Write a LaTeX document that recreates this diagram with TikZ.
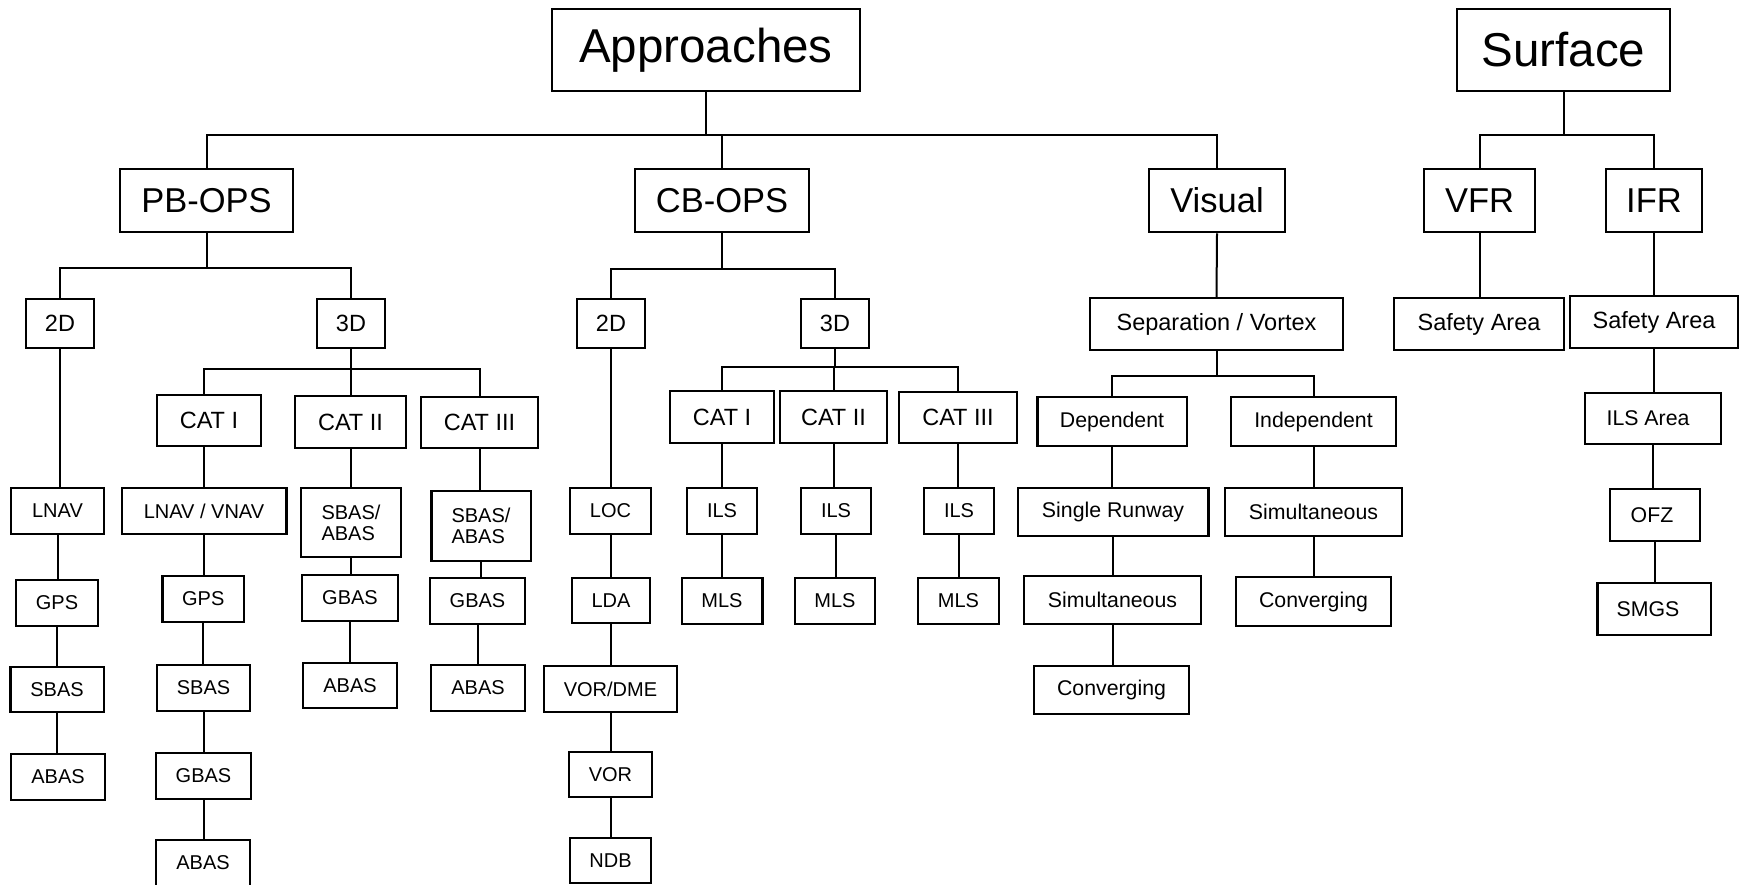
\documentclass[tikz,border=0pt]{standalone}
\usepackage{fontspec}
\setmainfont{Liberation Sans}
\newcommand{\fsz}[1]{\fontsize{#1}{#1}\selectfont}
\tikzset{
  bx/.style 2 args={draw, line width=2.5pt, minimum width=#1pt, minimum height=#2pt, inner sep=0pt},
  fA/.style={font=\fsz{47.5}},
  fB/.style={font=\fsz{34.5}},
  fC/.style={font=\fsz{23.5}},
  fD/.style={font=\fsz{21.3}},
  fE/.style={font=\fsz{20}},
  ln/.style={line width=2pt},
}
\begin{document}
\begin{tikzpicture}[x=1pt,y=-1pt]
\useasboundingbox (0,0) rectangle (1739,884);
\clip (0,0) rectangle (1739,884);
% level 1
\node[bx={308}{82},fA] (app) at (706,50) {Approaches};
\node[bx={213}{82},fA] (sur) at (1563.5,50) {Surface};
% level 2
\node[bx={173}{63},fB] (pb) at (206.5,200.5) {PB-OPS};
\node[bx={174}{63},fB] (cb) at (722,200.5) {CB-OPS};
\node[bx={136}{63},fB] (vis) at (1217,200.5) {Visual};
\node[bx={111}{63},fB] (vfr) at (1479.5,200.5) {VFR};
\node[bx={96}{63},fB] (ifr) at (1654,200.5) {IFR};
% level 3
\node[bx={68}{49},fC] (pbtwo) at (60,323.5) {2D};
\node[bx={68}{49},fC] (pbthree) at (351,323.5) {3D};
\node[bx={68}{49},fC] (cbtwo) at (611,323.5) {2D};
\node[bx={68}{49},fC] (cbthree) at (835,323.5) {3D};
\node[bx={253}{52},fC] (sep) at (1216.5,324) {Separation / Vortex};
\node[bx={170}{52},fC] (saone) at (1479,324) {Safety Area};
\node[bx={168}{52},fC] (satwo) at (1654,322) {Safety Area};
% level 4
\node[bx={104}{51},fC] (pcatone) at (209,420.5) {CAT I};
\node[bx={111}{52},fC] (pcattwo) at (350.5,422) {CAT II};
\node[bx={117}{51},fC] (pcatthree) at (479.5,422.5) {CAT III};
\node[bx={104}{52},fC] (ccatone) at (722,417) {CAT I};
\node[bx={107}{52},fC] (ccattwo) at (833.5,417) {CAT II};
\node[bx={118}{51},fC] (ccatthree) at (958,417.5) {CAT III};
\node[bx={149.5}{49},fD] (dep) at (1112,421.5) {Dependent};
\node[bx={165}{49},fD] (ind) at (1313.5,421.5) {Independent};
\node[bx={136}{51},fD] (ilsa) at (1653,418.5) {\hspace*{-10pt}ILS Area};
% level 5
\node[bx={93}{46},fE] (lnav) at (57.5,511) {LNAV};
\node[bx={164.5}{46},fE] (lv) at (204,511) {LNAV / VNAV};
\node[bx={100}{69},fE,align=left] (sbtwo) at (351,522.5) {SBAS/\\[1pt]ABAS};
\node[bx={99.5}{70},fE,align=left] (sbthree) at (481,526) {SBAS/\\[1pt]ABAS};
\node[bx={81}{46},fE] (loc) at (610.5,511) {LOC};
\node[bx={70}{46},fE] (ilsone) at (722,511) {ILS};
\node[bx={70}{46},fE] (ilstwo) at (836,511) {ILS};
\node[bx={70}{46},fE] (ilsthree) at (959,511) {ILS};
\node[bx={190.5}{48},fD] (sr) at (1113,512) {Single Runway};
\node[bx={177}{48},fD] (simtwo) at (1313.5,512) {Simultaneous};
\node[bx={90}{52},fD] (ofz) at (1655,515) {\hspace*{-6pt}OFZ};
% level 6
\node[bx={82}{46},fE] (gpsone) at (57,603) {GPS};
\node[bx={81.5}{46},fE] (gpstwo) at (203.3,599) {GPS};
\node[bx={96}{46},fE] (gbtwo) at (350,598) {GBAS};
\node[bx={95}{46},fE] (gbthree) at (477.5,601) {GBAS};
\node[bx={78.4}{45},fE] (lda) at (611,600.5) {LDA};
\node[bx={80.5}{46},fE] (mlsone) at (722,601) {MLS};
\node[bx={80}{46},fE] (mlstwo) at (835,601) {MLS};
\node[bx={81}{46},fE] (mlsthree) at (958.5,601) {MLS};
\node[bx={177}{48},fD] (simone) at (1112.5,600) {Simultaneous};
\node[bx={155}{49},fD] (convtwo) at (1313.5,601.5) {Converging};
\node[bx={113.5}{52},fD] (smgs) at (1654,609) {\hspace*{-12pt}SMGS};
% level 7
\node[bx={93.5}{45},fE] (sbasone) at (57,689.5) {SBAS};
\node[bx={93}{46},fE] (sbastwo) at (203.5,688) {SBAS};
\node[bx={94}{45},fE] (abtwo) at (350,685.5) {ABAS};
\node[bx={94}{46},fE] (abthree) at (478,688) {ABAS};
\node[bx={133}{46},fE] (vd) at (610.5,689) {VOR/DME};
\node[bx={155}{48},fD] (convone) at (1111.5,690) {Converging};
% level 8
\node[bx={94}{46},fE] (abone) at (58,777) {ABAS};
\node[bx={95}{46},fE] (gbone) at (203.5,776) {GBAS};
\node[bx={83}{45},fE] (vor) at (610.5,774.5) {VOR};
% level 9
\node[bx={94}{46},fE] (abfour) at (203,863) {ABAS};
\node[bx={81}{45},fE] (ndb) at (610.5,860.5) {NDB};
% bar coordinates
\coordinate (bA) at (0,135);
\coordinate (bS) at (0,135);
\coordinate (bPB) at (0,268);
\coordinate (bCB) at (0,269);
\coordinate (bPB3) at (0,369);
\coordinate (bCB3) at (0,367);
\coordinate (bSep) at (0,376);
% branching connectors
\draw[ln] (app.south) -- (app.south |- bA);
\draw[ln] (pb.north) |- (vis.north |- bA) -- (vis.north);
\draw[ln] (cb.north) -- (cb.north |- bA);
\draw[ln] (sur.south) -- (sur.south |- bS);
\draw[ln] (vfr.north) |- (ifr.north |- bS) -- (ifr.north);
\draw[ln] (pb.south) -- (pb.south |- bPB);
\draw[ln] (pbtwo.north) |- (pbthree.north |- bPB) -- (pbthree.north);
\draw[ln] (cb.south) -- (cb.south |- bCB);
\draw[ln] (cbtwo.north) |- (cbthree.north |- bCB) -- (cbthree.north);
\draw[ln] (pbthree.south) -- (pbthree.south |- bPB3);
\draw[ln] ([xshift=-5pt]pcatone.north) |- (pcatthree.north |- bPB3) -- (pcatthree.north);
\draw[ln] (pcattwo.north) -- (pcattwo.north |- bPB3);
\draw[ln] (cbthree.south) -- (cbthree.south |- bCB3);
\draw[ln] (ccatone.north) |- (ccatthree.north |- bCB3) -- (ccatthree.north);
\draw[ln] (ccattwo.north) -- (ccattwo.north |- bCB3);
\draw[ln] (vis.south) -- (sep.north);
\draw[ln] (sep.south) -- (sep.south |- bSep);
\draw[ln] (dep.north) |- (ind.north |- bSep) -- (ind.north);
% chains
\draw[ln] (vfr.south) -- (vfr.south |- saone.north);
\draw[ln] (ifr.south) -- (ifr.south |- satwo.north);
\draw[ln] (satwo.south) -- (satwo.south |- ilsa.north);
\draw[ln] (ilsa.south) -- (ilsa.south |- ofz.north);
\draw[ln] (ofz.south) -- (ofz.south |- smgs.north);
\draw[ln] (pbtwo.south) -- (pbtwo.south |- lnav.north);
\draw[ln] (lnav.south) -- (lnav.south |- gpsone.north);
\draw[ln] (gpsone.south) -- (gpsone.south |- sbasone.north);
\draw[ln] (sbasone.south) -- (sbasone.south |- abone.north);
\draw[ln] ([xshift=-5pt]pcatone.south) -- ([xshift=-5pt]pcatone.south |- lv.north);
\draw[ln] (lv.south) -- (lv.south |- gpstwo.north);
\draw[ln] (gpstwo.south) -- (gpstwo.south |- sbastwo.north);
\draw[ln] (sbastwo.south) -- (sbastwo.south |- gbone.north);
\draw[ln] (gbone.south) -- (gbone.south |- abfour.north);
\draw[ln] (pcattwo.south) -- (pcattwo.south |- sbtwo.north);
\draw[ln] (sbtwo.south) -- (sbtwo.south |- gbtwo.north);
\draw[ln] (gbtwo.south) -- (gbtwo.south |- abtwo.north);
\draw[ln] (pcatthree.south) -- (pcatthree.south |- sbthree.north);
\draw[ln] (sbthree.south) -- (sbthree.south |- gbthree.north);
\draw[ln] (gbthree.south) -- (gbthree.south |- abthree.north);
\draw[ln] (cbtwo.south) -- (cbtwo.south |- loc.north);
\draw[ln] (loc.south) -- (loc.south |- lda.north);
\draw[ln] (lda.south) -- (lda.south |- vd.north);
\draw[ln] (vd.south) -- (vd.south |- vor.north);
\draw[ln] (vor.south) -- (vor.south |- ndb.north);
\draw[ln] (ccatone.south) -- (ccatone.south |- ilsone.north);
\draw[ln] (ilsone.south) -- (ilsone.south |- mlsone.north);
\draw[ln] (ccattwo.south) -- (ccattwo.south |- ilstwo.north);
\draw[ln] (ilstwo.south) -- (ilstwo.south |- mlstwo.north);
\draw[ln] (ccatthree.south) -- (ccatthree.south |- ilsthree.north);
\draw[ln] (ilsthree.south) -- (ilsthree.south |- mlsthree.north);
\draw[ln] (dep.south) -- (dep.south |- sr.north);
\draw[ln] (sr.south) -- (sr.south |- simone.north);
\draw[ln] (simone.south) -- (simone.south |- convone.north);
\draw[ln] (ind.south) -- (ind.south |- simtwo.north);
\draw[ln] (simtwo.south) -- (simtwo.south |- convtwo.north);
\end{tikzpicture}
\end{document}
